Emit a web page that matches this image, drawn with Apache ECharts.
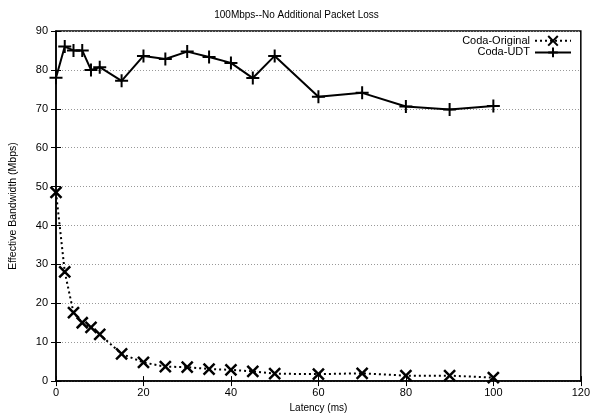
<!DOCTYPE html>
<html>
<head>
<meta charset="utf-8">
<script src="https://cdn.jsdelivr.net/npm/echarts@6/dist/echarts.min.js"></script>
<style>
  html, body { margin: 0; padding: 0; background: #fff; }
  #chart { width: 593px; height: 418px; }
</style>
</head>
<body>
<div id="chart"></div>
<script>
const latency = [0, 2, 4, 6, 8, 10, 15, 20, 25, 30, 35, 40, 45, 50, 60, 70, 80, 90, 100];
const codaOriginal = [48.5, 28.1, 17.6, 15.0, 13.8, 12.0, 7.0, 4.8, 3.7, 3.6, 3.1, 2.9, 2.5, 1.9, 1.8, 2.0, 1.4, 1.4, 0.9];
const codaUdt = [78, 86, 85, 85, 80, 80.7, 77.2, 83.6, 82.8, 84.7, 83.3, 81.8, 77.9, 83.6, 73.1, 74.1, 70.6, 69.8, 70.7];

const chart = echarts.init(document.getElementById('chart'));

const crossX = 'path://M0,0L10,10M10,0L0,10';
const plus = 'path://M5,0L5,10M0,5L10,5';
const font = 'Liberation Sans';

const hiddenAxis = {
  axisLine: { show: false },
  axisLabel: { show: false },
  splitLine: { show: false },
  axisTick: { show: true, inside: true, length: 5, lineStyle: { color: '#000', width: 1 } }
};

chart.setOption({
  animation: false,
  backgroundColor: '#fff',
  textStyle: { fontFamily: font },
  title: {
    text: '100Mbps--No Additional Packet Loss',
    left: 'center',
    top: 5,
    textStyle: { fontSize: 10, fontWeight: 'normal', color: '#000', fontFamily: font }
  },
  legend: {
    right: 16,
    top: 30,
    orient: 'vertical',
    align: 'right',
    itemGap: 0,
    itemWidth: 36,
    itemHeight: 12,
    textStyle: { fontSize: 11, color: '#000', fontFamily: font },
    data: ['Coda-Original', 'Coda-UDT']
  },
  grid: {
    left: 53, right: 10, top: 31, bottom: 35,
    show: true, borderColor: '#000', borderWidth: 1.5
  },
  xAxis: [
    {
      type: 'value', min: 0, max: 120, interval: 20,
      name: 'Latency (ms)', nameLocation: 'middle', nameGap: 21,
      nameTextStyle: { fontSize: 10, color: '#000', fontFamily: font },
      axisLine: { show: true, lineStyle: { color: '#000', width: 1.5 } },
      axisTick: { inside: true, length: 5, lineStyle: { color: '#000' } },
      axisLabel: { fontSize: 11, color: '#000', margin: 6 },
      splitLine: { show: false }
    },
    Object.assign({ type: 'value', min: 0, max: 120, interval: 20, position: 'top' }, hiddenAxis)
  ],
  yAxis: [
    {
      type: 'value', min: 0, max: 90, interval: 10,
      name: 'Effective Bandwidth (Mbps)', nameLocation: 'middle', nameGap: 37,
      nameTextStyle: { fontSize: 10.5, color: '#000', fontFamily: font },
      axisLine: { show: true, lineStyle: { color: '#000', width: 1.5 } },
      axisTick: { inside: true, length: 5, lineStyle: { color: '#000' } },
      axisLabel: { fontSize: 11, color: '#000', margin: 8 },
      splitLine: { show: true, lineStyle: { color: '#999', type: [1, 2], width: 1 } }
    },
    Object.assign({ type: 'value', min: 0, max: 90, interval: 10, position: 'right' }, hiddenAxis)
  ],
  series: [
    {
      name: 'Coda-Original',
      type: 'line',
      data: latency.map((x, i) => [x, codaOriginal[i]]),
      symbol: crossX,
      symbolSize: 11,
      showAllSymbol: true,
      lineStyle: { color: '#000', width: 2, type: [2, 3] },
      itemStyle: { color: 'transparent', borderColor: '#000', borderWidth: 2.5 }
    },
    {
      name: 'Coda-UDT',
      type: 'line',
      data: latency.map((x, i) => [x, codaUdt[i]]),
      symbol: plus,
      symbolSize: 13,
      showAllSymbol: true,
      lineStyle: { color: '#000', width: 2 },
      itemStyle: { color: 'transparent', borderColor: '#000', borderWidth: 2 }
    }
  ]
});
</script>
</body>
</html>
